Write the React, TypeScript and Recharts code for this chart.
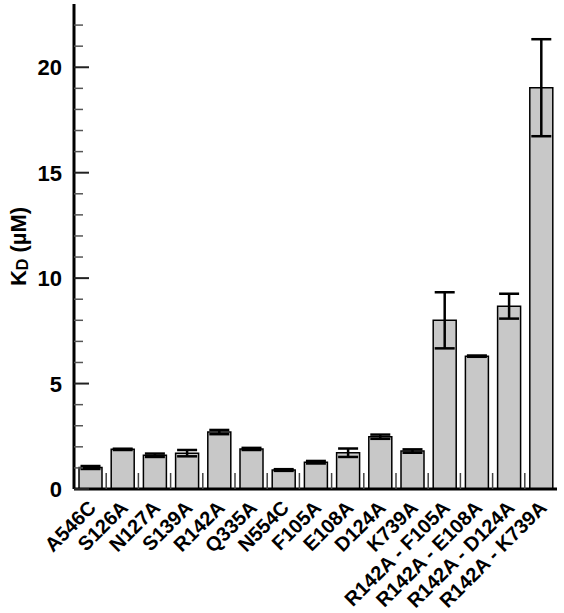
import React from 'react';
import { BarChart, Bar, XAxis, YAxis, ErrorBar } from 'recharts';

// Dissociation constants (µM) per mutant, with error
const mutants = [
  'A546C', 'S126A', 'N127A', 'S139A', 'R142A', 'Q335A', 'N554C', 'F105A',
  'E108A', 'D124A', 'K739A', 'R142A - F105A', 'R142A - E108A', 'R142A - D124A', 'R142A - K739A',
];
const kdValues = [1.02, 1.88, 1.6, 1.7, 2.7, 1.9, 0.9, 1.27, 1.72, 2.48, 1.8, 8.0, 6.3, 8.67, 19.03];
const kdErrors = [0.07, 0.03, 0.08, 0.15, 0.1, 0.05, 0.04, 0.06, 0.2, 0.1, 0.08, 1.33, 0.03, 0.59, 2.3];

const yTicks = Array.from({ length: 23 }, (_, i) => i);

const data = mutants.map((name, i) => ({
  name,
  kd: kdValues[i],
  err: kdErrors[i],
}));

const FONT = '"Liberation Sans", Arial, Helvetica, sans-serif';

const YTick = (props: any) => {
  const { x, y, payload } = props;
  const major = payload.value % 5 === 0;
  return (
    <g>
      <line
        x1={x}
        x2={x + (major ? 15 : 9)}
        y1={y}
        y2={y}
        stroke={major ? '#222' : '#555'}
        strokeWidth={major ? 2 : 1.5}
      />
      {major && (
        <text
          x={x - 12}
          y={y}
          dy={8}
          textAnchor="end"
          fontFamily={FONT}
          fontWeight="bold"
          fontSize={22}
          fill="#000"
        >
          {payload.value}
        </text>
      )}
    </g>
  );
};

// Rotated category label, plus a short separator mark on the left edge of each band
const CategoryTick = (props: any) => {
  const { x, y, payload, index } = props;
  const half = payload.offset ?? 0;
  const ax = x + 7;
  const ay = y + 20;
  return (
    <g>
      {index > 0 && half > 0 && (
        <line x1={x - half} x2={x - half} y1={y} y2={y - 16} stroke="#444" strokeWidth={1.5} />
      )}
      <text
        x={ax}
        y={ay}
        textAnchor="end"
        transform={`rotate(-45, ${ax}, ${ay})`}
        fontFamily={FONT}
        fontWeight="bold"
        fontSize={20}
        fill="#000"
      >
        {payload.value}
      </text>
    </g>
  );
};

const YLabel = (props: any) => {
  const { viewBox } = props;
  const cx = viewBox.x + 18;
  const cy = viewBox.y + viewBox.height / 2;
  return (
    <text
      x={cx}
      y={cy}
      transform={`rotate(-90, ${cx}, ${cy})`}
      textAnchor="middle"
      dominantBaseline="central"
      fontFamily={FONT}
      fontWeight="bold"
      fontSize={22}
      fill="#000"
    >
      K
      <tspan fontSize={16} dy={4}>D</tspan>
      <tspan dy={-4}> (µM)</tspan>
    </text>
  );
};

export default function App() {
  return (
    <div style={{ position: 'absolute', left: 0, top: 0, background: '#fff' }}>
      <BarChart
        width={564}
        height={613}
        data={data}
        margin={{ top: 4, right: 7, left: 0, bottom: 0 }}
        barSize={23}
      >
        <XAxis
          xAxisId="cat"
          dataKey="name"
          interval={0}
          height={124}
          tickLine={false}
          tickSize={0}
          tickMargin={0}
          axisLine={{ stroke: '#000', strokeWidth: 3 }}
          tick={<CategoryTick />}
        />
        <XAxis
          xAxisId="top"
          orientation="top"
          dataKey="name"
          height={0}
          tick={false}
          tickLine={false}
          axisLine={{ stroke: '#000', strokeWidth: 2.5 }}
        />
        <YAxis
          yAxisId="kd"
          domain={[0, 23]}
          ticks={yTicks}
          interval={0}
          width={74}
          tickLine={false}
          tickSize={0}
          tickMargin={0}
          axisLine={{ stroke: '#000', strokeWidth: 3 }}
          tick={<YTick />}
          label={{ content: <YLabel /> }}
        />
        <YAxis
          yAxisId="right"
          orientation="right"
          width={0}
          tick={false}
          tickLine={false}
          axisLine={{ stroke: '#000', strokeWidth: 2.5 }}
        />
        <Bar
          xAxisId="cat"
          yAxisId="kd"
          dataKey="kd"
          fill="#c8c8c8"
          stroke="#000"
          strokeWidth={1.5}
          isAnimationActive={false}
        >
          <ErrorBar
            dataKey="err"
            direction="y"
            width={10}
            stroke="#000"
            strokeWidth={2.5}
            isAnimationActive={false}
          />
        </Bar>
      </BarChart>
    </div>
  );
}
